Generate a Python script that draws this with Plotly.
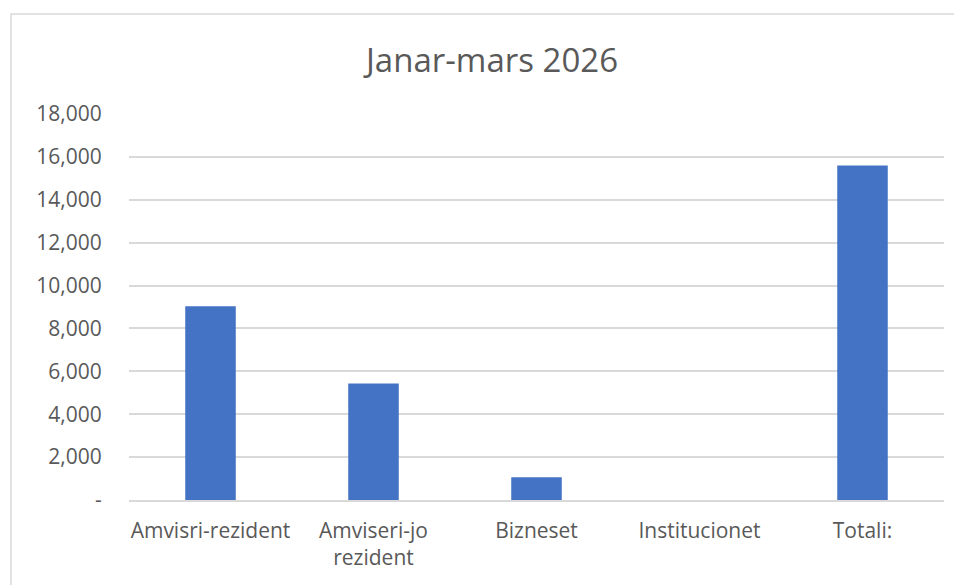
import plotly.graph_objects as go

categories = ["Amvisri-rezident", "Amviseri-jo<br>rezident", "Bizneset", "Institucionet", "Totali:"]
values = [9030, 5430, 1060, 0, 15600]
y_tickvals = [0, 2000, 4000, 6000, 8000, 10000, 12000, 14000, 16000, 18000]
y_ticktext = ["-", "2,000", "4,000", "6,000", "8,000", "10,000", "12,000", "14,000", "16,000", "18,000"]
title_text = "Janar-mars 2026"

W, H = 962, 585
OFF = 8  # page body margin offset
L, R, T, B = 129 - OFF, 18 + OFF, 114 - OFF, 85 + OFF
pw, ph = W - L - R, H - T - B

def px_x(x):
    return (x - OFF - L) / pw

def px_y(y):
    return (H - B - (y - OFF)) / ph

FONT = "Open Sans"
GRAY = "#595959"

fig = go.Figure(go.Bar(
    x=categories, y=values,
    marker=dict(color="#4472C4", line=dict(width=0)),
))

fig.update_layout(
    width=W, height=H,
    margin=dict(l=L, r=R, t=T, b=B),
    paper_bgcolor="white", plot_bgcolor="white",
    bargap=0.69,
    showlegend=False,
    font=dict(family=FONT, color=GRAY, size=21),
    title=dict(text=title_text, x=px_x(492), xref="paper", y=1 - (60 - OFF) / H, yref="container",
               xanchor="center", yanchor="middle",
               font=dict(family=FONT, size=33, color=GRAY)),
    shapes=[dict(type="rect", xref="paper", yref="paper",
                 x0=px_x(11), x1=px_x(990), y0=px_y(620), y1=px_y(14),
                 line=dict(color="#d9d9d9", width=1.5), fillcolor="rgba(0,0,0,0)", layer="below")],
)

fig.update_yaxes(
    range=[0, 18000], tickvals=y_tickvals, ticktext=y_ticktext,
    showgrid=True, gridcolor="#d9d9d9", gridwidth=1.5,
    zeroline=False, showline=False,
    ticks="outside", ticklen=22, tickcolor="rgba(0,0,0,0)",
    tickfont=dict(family=FONT, size=21, color=GRAY),
)
fig.update_xaxes(
    showgrid=False, showline=True, linecolor="#d9d9d9", linewidth=1.5,
    ticks="outside", ticklen=11, tickcolor="rgba(0,0,0,0)",
    tickfont=dict(family=FONT, size=21, color=GRAY),
)

fig.write_html("out.html")
